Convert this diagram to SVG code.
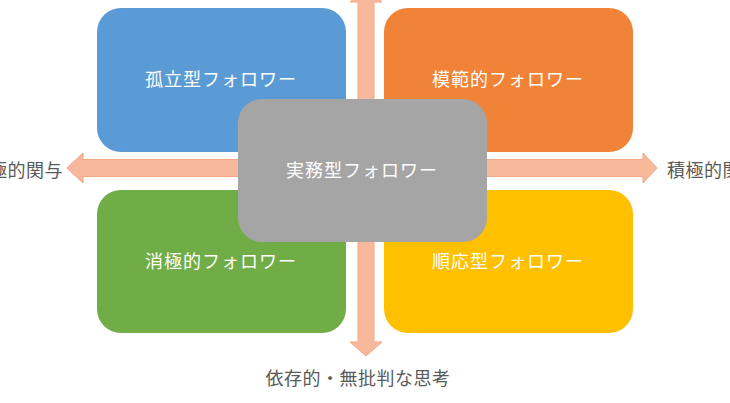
<svg xmlns="http://www.w3.org/2000/svg" width="730" height="403" viewBox="0 0 730 403">
  <style>
    .box { stroke: none; }
    .lbl { font-family: "Noto Sans CJK JP", "Noto Sans", sans-serif; font-size: 18px; fill: #ffffff; text-anchor: middle; letter-spacing: 1px; }
    .axis { font-family: "Noto Sans CJK JP", "Noto Sans", sans-serif; font-size: 18px; fill: #595959; letter-spacing: 0.5px; }
    .arrow { fill: #F8B89B; stroke: #F3A584; stroke-width: 1; }
  </style>
  <rect width="730" height="403" fill="#ffffff"/>
  <g id="connectors">
    <polygon class="arrow" points="67,168 83,153 83,159.5 643,159.5 643,153 657,168 643,183 643,176.5 83,176.5 83,183"/>
    <polygon class="arrow" points="366,-12 382,2 374,2 374,342 382,342 366,356 350,342 358,342 358,2 350,2"/>
  </g>
  <g id="isolated">
    <rect class="box" x="97" y="8" width="249" height="144" rx="24" fill="#5B9BD5"/>
    <text class="lbl" x="221" y="86">孤立型フォロワー</text>
  </g>
  <g id="exemplary">
    <rect class="box" x="384" y="8" width="249" height="144" rx="24" fill="#F08337"/>
    <text class="lbl" x="508" y="86">模範的フォロワー</text>
  </g>
  <g id="passive">
    <rect class="box" x="97" y="190" width="249" height="143" rx="24" fill="#70AD47"/>
    <text class="lbl" x="221" y="268">消極的フォロワー</text>
  </g>
  <g id="conformist">
    <rect class="box" x="384" y="190" width="249" height="143" rx="24" fill="#FFC000"/>
    <text class="lbl" x="508" y="268">順応型フォロワー</text>
  </g>
  <g id="pragmatist">
    <rect class="box" x="238" y="99" width="249" height="143" rx="24" fill="#A5A5A5"/>
    <text class="lbl" x="362" y="177">実務型フォロワー</text>
  </g>
  <g id="axis-labels">
    <text class="axis" x="63" y="177" text-anchor="end">極的関与</text>
    <text class="axis" x="667" y="177">積極的関</text>
    <text class="axis" x="358" y="385" text-anchor="middle">依存的・無批判な思考</text>
  </g>
</svg>
